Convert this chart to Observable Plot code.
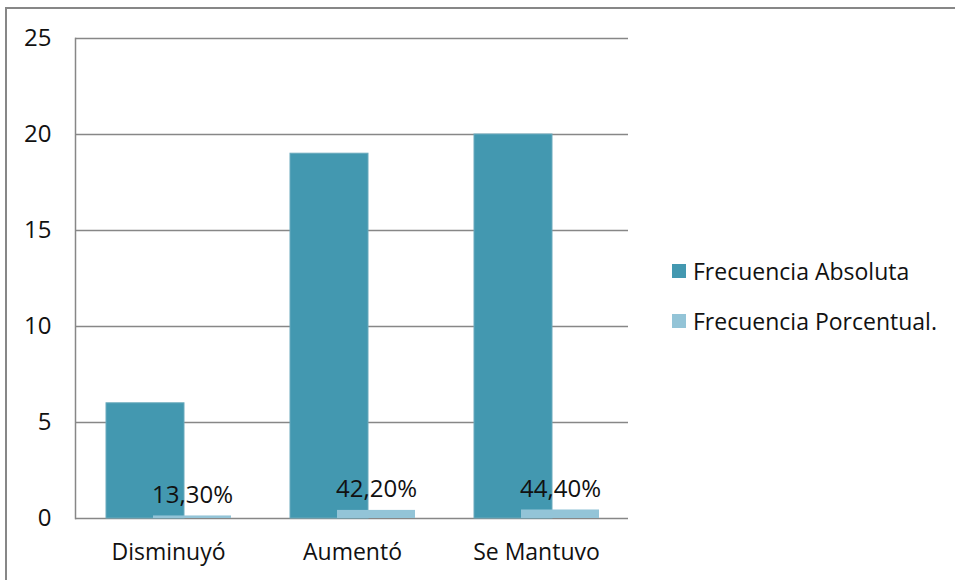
<!DOCTYPE html>
<html>
<head>
<meta charset="utf-8">
<script src="https://cdn.jsdelivr.net/npm/d3@7"></script>
<script src="https://cdn.jsdelivr.net/npm/@observablehq/plot@0.6"></script>
<style>
  html, body { margin: 0; padding: 0; background: #fff; }
  #wrap { position: relative; width: 955px; height: 580px; overflow: hidden; font-family: "Open Sans", sans-serif; }
  #border { position: absolute; left: 5px; top: 7px; width: 1000px; height: 700px; border-top: 2px solid #878787; border-left: 2px solid #878787; pointer-events: none; }
  #legend { position: absolute; left: 672px; top: 246px; font-size: 23px; color: #111; }
  .item { display: flex; align-items: center; height: 50px; }
  .sw { width: 14px; height: 14px; margin-right: 7px; }
  svg { position: absolute; left: 0; top: 0; }
</style>
</head>
<body>
<div id="wrap">
  <div id="chart"></div>
  <div id="border"></div>
  <div id="legend"></div>
</div>
<script>
const categories = ["Disminuyó", "Aumentó", "Se Mantuvo"];
const absoluta = [6, 19, 20];
const porcentual = [0.133, 0.422, 0.444];
const porcentualLabels = ["13,30%", "42,20%", "44,40%"];
const yTicks = [0, 5, 10, 15, 20, 25];
const seriesNames = ["Frecuencia Absoluta", "Frecuencia Porcentual."];
const seriesColors = ["#4398B0", "#93C4D7"];

const absData = categories.map((c, i) => ({cat: c, v: absoluta[i]}));
const pctData = categories.map((c, i) => ({cat: c, v: porcentual[i], label: porcentualLabels[i]}));

const chart = Plot.plot({
  width: 955,
  height: 580,
  marginLeft: 75,
  marginRight: 327,
  marginTop: 38,
  marginBottom: 62,
  style: {fontFamily: "Open Sans, sans-serif", fontSize: "22px", color: "#111", background: "transparent"},
  x: {domain: categories, paddingInner: 0.577, paddingOuter: 0.2885, label: null},
  y: {domain: [0, 25], label: null},
  marks: [
    Plot.gridY(yTicks, {stroke: "#878787", strokeOpacity: 1, strokeWidth: 1.5}),
    Plot.frame({anchor: "left", stroke: "#878787", strokeWidth: 1.5}),
    Plot.barY(absData, {x: "cat", y: "v", fill: seriesColors[0], stroke: "#6aaabd", strokeWidth: 1, dx: -23}),
    Plot.barY(pctData, {x: "cat", y: "v", fill: seriesColors[1], dx: 24}),
    Plot.text(pctData, {x: "cat", y: "v", text: "label", dx: 24, dy: -13, lineAnchor: "bottom", fontSize: 24, fill: "#111"}),
    Plot.axisY({ticks: yTicks, tickSize: 0, tickPadding: 24, fontSize: 24, label: null}),
    Plot.axisX({tickSize: 0, tickPadding: 25, fontSize: 23, label: null})
  ]
});
document.getElementById("chart").appendChild(chart);

const legend = document.getElementById("legend");
seriesNames.forEach((n, i) => {
  const d = document.createElement("div");
  d.className = "item";
  d.innerHTML = `<span class="sw" style="background:${seriesColors[i]}"></span><span>${n}</span>`;
  legend.appendChild(d);
});
</script>
</body>
</html>
